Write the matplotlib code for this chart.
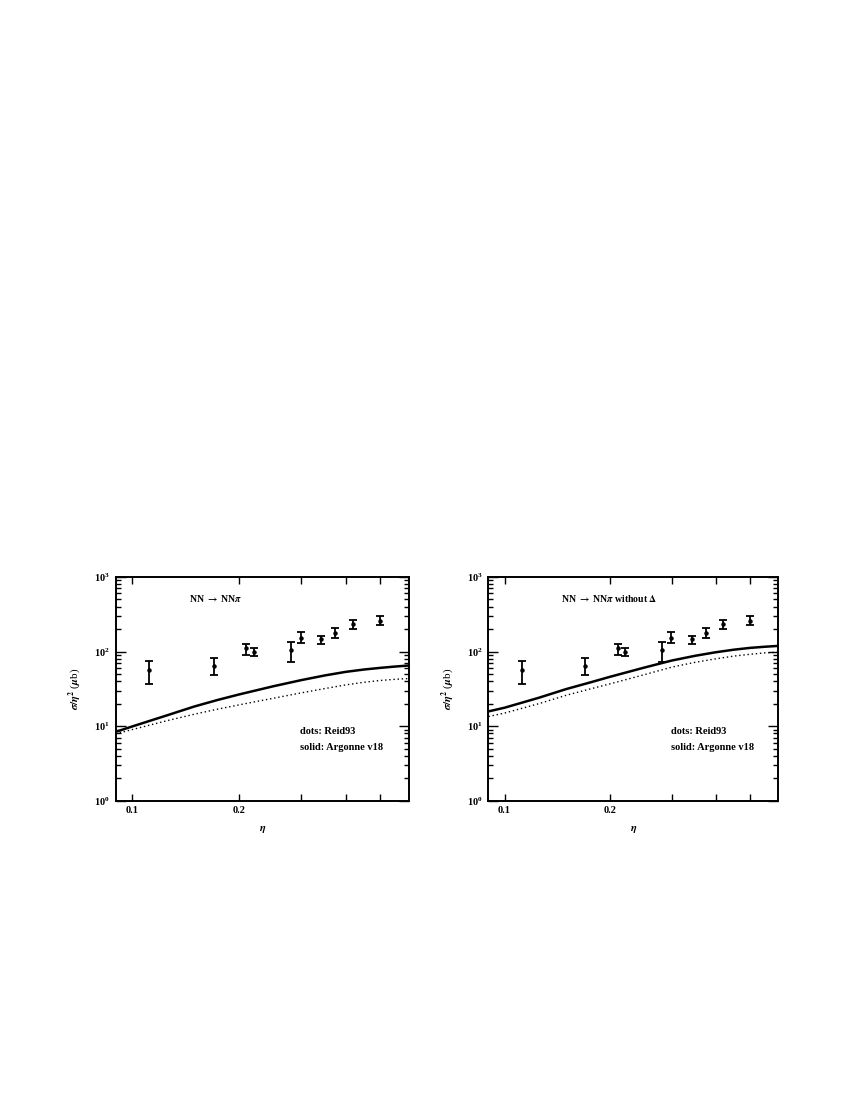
import numpy as np
import matplotlib.pyplot as plt
from matplotlib.ticker import FixedLocator, LogLocator, NullFormatter, FixedFormatter

# measured points (same in both panels)
eta_data = [0.112, 0.170, 0.210, 0.220, 0.281, 0.299, 0.341, 0.374, 0.418, 0.500]
sig_data = [56, 64, 110, 99, 104, 153, 146, 178, 234, 259]
sig_hi = [74, 81, 126, 110, 134, 182, 164, 210, 265, 296]
sig_lo = [37, 48, 91, 86, 73, 130, 128, 152, 201, 227]

# theory curves
eta_curve = [0.09, 0.10, 0.125, 0.15, 0.175, 0.20, 0.25, 0.30, 0.35, 0.40, 0.45, 0.50, 0.55, 0.60]
# left panel: NN -> NN pi
av18_full = [8.4, 9.9, 13.9, 18.4, 22.6, 26.6, 34.3, 41.5, 48.0, 53.5, 57.5, 60.5, 63.0, 65.0]
reid_full = [7.9, 9.0, 11.8, 14.5, 17.0, 19.3, 23.7, 28.0, 32.0, 35.8, 38.8, 41.0, 42.5, 43.5]
# right panel: without Delta
av18_nodelta = [15.8, 17.7, 24.0, 31.5, 38.5, 46.0, 61.0, 76.0, 88.0, 98.0, 106.0, 112.0, 116.0, 119.0]
reid_nodelta = [13.5, 15.0, 20.0, 26.0, 31.5, 37.0, 49.0, 62.0, 72.0, 80.0, 87.0, 92.0, 96.0, 98.0]

x_ticks = [0.1, 0.2, 0.3, 0.4, 0.5]
x_ticklabels = ['0.1', '0.2', '', '', '']
titles = [r'NN $\rightarrow$ NN$\pi$', r'NN $\rightarrow$ NN$\pi$ without $\Delta$']

plt.rcParams['font.family'] = 'Liberation Serif'
plt.rcParams['font.weight'] = 'bold'
plt.rcParams['mathtext.fontset'] = 'stix'

fig = plt.figure(figsize=(8.63, 11.17), dpi=100)
ax_l = fig.add_axes([0.134, 0.283, 0.340, 0.2005])
ax_r = fig.add_axes([0.566, 0.283, 0.336, 0.2005])

panels = [(ax_l, av18_full, reid_full, titles[0]),
          (ax_r, av18_nodelta, reid_nodelta, titles[1])]

for ax, solid, dots, title in panels:
    ax.set_xscale('log')
    ax.set_yscale('log')
    ax.set_xlim(0.09, 0.603)
    ax.set_ylim(1, 1000)

    # data with error bars
    yerr = [np.array(sig_data) - np.array(sig_lo), np.array(sig_hi) - np.array(sig_data)]
    ax.errorbar(eta_data, sig_data, yerr=yerr, fmt='o', color='black', ms=2.2,
                elinewidth=1.3, capsize=3, capthick=1.3)

    ax.plot(eta_curve, solid, color='black', lw=1.8)
    ax.plot(eta_curve, dots, color='black', lw=1.0, linestyle=(0, (1, 2)))

    ax.text(0.25, 0.89, title, transform=ax.transAxes, fontsize=7, fontweight='bold')
    ax.text(0.63, 0.30, 'dots: Reid93', transform=ax.transAxes, fontsize=7.5, fontweight='bold')
    ax.text(0.63, 0.225, 'solid: Argonne v18', transform=ax.transAxes, fontsize=7.5, fontweight='bold')

    ax.set_xlabel(r'$\eta$', fontsize=8, labelpad=6)
    ax.set_ylabel(r'$\sigma/\eta^2$ ($\mu$b)', fontsize=8, labelpad=8)

    ax.xaxis.set_major_locator(FixedLocator(x_ticks))
    ax.xaxis.set_major_formatter(FixedFormatter(x_ticklabels))
    ax.xaxis.set_minor_locator(FixedLocator([]))
    ax.yaxis.set_major_locator(LogLocator(base=10))
    ax.yaxis.set_minor_locator(LogLocator(base=10, subs=np.arange(2, 10)))
    ax.yaxis.set_minor_formatter(NullFormatter())

    ax.tick_params(which='both', direction='in', top=True, right=True, labelsize=7.5, width=1)
    ax.tick_params(which='major', length=7, pad=4)
    ax.tick_params(which='minor', length=3.5)
    ax.tick_params(axis='x', which='major', length=5)
    for s in ax.spines.values():
        s.set_linewidth(1.4)

fig.savefig('out.png', dpi=100)
